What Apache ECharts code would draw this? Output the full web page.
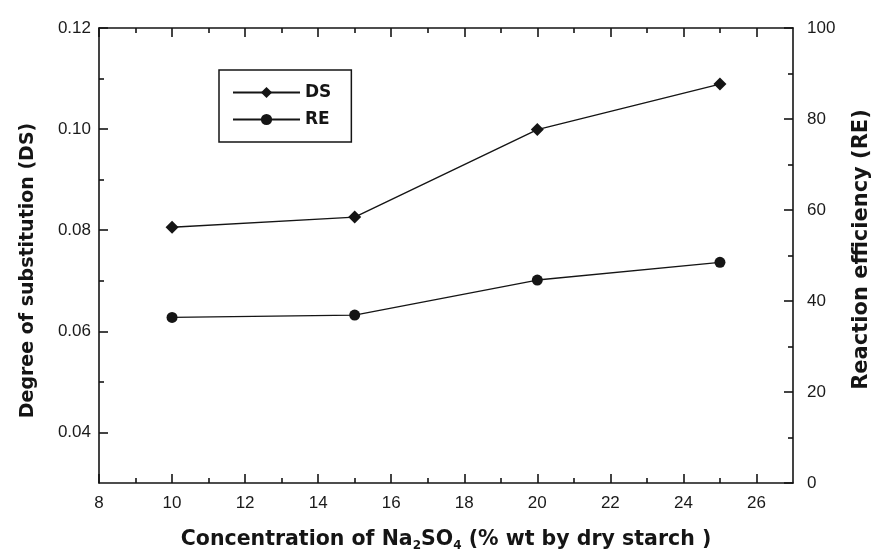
<!DOCTYPE html>
<html><head><meta charset="utf-8">
<script src="https://cdn.jsdelivr.net/npm/echarts@6/dist/echarts.min.js"></script>
<style>html,body{margin:0;padding:0;background:#fff}#c{width:874px;height:555px}</style>
</head><body><div id="c"></div>
<script>
// ---- data ----
const concentration = [10, 15, 20, 25];
const dsValues = [0.0806, 0.0826, 0.0999, 0.1089];
const reValues = [36.4, 36.9, 44.6, 48.5];
const xMajorTicks = [8, 10, 12, 14, 16, 18, 20, 22, 24, 26];
const xMinorTicks = [9, 11, 13, 15, 17, 19, 21, 23, 25];
const dsMajorTicks = [0.04, 0.06, 0.08, 0.10, 0.12];
const dsMinorTicks = [0.05, 0.07, 0.09, 0.11];
const reMajorTicks = [0, 20, 40, 60, 80, 100];
const reMinorTicks = [10, 30, 50, 70, 90];

const INK = '#151515';
const FONT = '"Liberation Sans", Arial, sans-serif';
const BFONT = '"DejaVu Sans", "Liberation Sans", sans-serif';
const lineW = 1.6;
const gridPos = { left: 99, right: 81, top: 28, bottom: 72, outerBoundsMode: 'none', containLabel: false };
const labelStyle = { color: '#1a1a1a', fontSize: 17, fontFamily: FONT };

function minorAxis(pos, min, max, ticks) {
  return {
    type: 'value', gridIndex: 1, position: pos, min: min, max: max,
    axisLine: { show: false },
    axisTick: { show: true, inside: true, length: 5, customValues: ticks, lineStyle: { color: INK, width: lineW } },
    axisLabel: { show: false }, splitLine: { show: false }
  };
}

const chart = echarts.init(document.getElementById('c'), null, { renderer: 'canvas' });
chart.setOption({
  animation: false,
  backgroundColor: '#fff',
  grid: [Object.assign({}, gridPos), Object.assign({}, gridPos)],
  legend: {
    orient: 'vertical', left: 219, top: 70,
    data: ['DS', 'RE'],
    borderColor: INK, borderWidth: 1.5, borderRadius: 0,
    padding: [14, 20, 14, 13],
    itemWidth: 67, itemHeight: 14, itemGap: 10,
    textStyle: { color: INK, fontSize: 17, fontWeight: 'bold', fontFamily: BFONT }
  },
  xAxis: [
    {
      type: 'value', gridIndex: 0, position: 'bottom', min: 8, max: 27,
      axisLine: { show: true, lineStyle: { color: INK, width: lineW } },
      axisTick: { show: true, inside: true, length: 9, customValues: xMajorTicks, lineStyle: { color: INK, width: lineW } },
      axisLabel: Object.assign({ customValues: xMajorTicks, margin: 12 }, labelStyle),
      splitLine: { show: false },
      name: 'Concentration of Na{sub|2}SO{sub|4} (% wt by dry starch )',
      nameLocation: 'middle', nameGap: 45,
      nameTextStyle: {
        color: INK, fontSize: 20.5, fontWeight: 'bold', fontFamily: BFONT,
        rich: { sub: { fontSize: 12, fontWeight: 'bold', fontFamily: BFONT, color: INK, verticalAlign: 'bottom', padding: [12, 0, 0, 0] } }
      }
    },
    {
      type: 'value', gridIndex: 0, position: 'top', min: 8, max: 27,
      axisLine: { show: true, lineStyle: { color: INK, width: lineW } },
      axisTick: { show: true, inside: true, length: 9, customValues: xMajorTicks, lineStyle: { color: INK, width: lineW } },
      axisLabel: { show: false }, splitLine: { show: false }
    },
    minorAxis('bottom', 8, 27, xMinorTicks),
    minorAxis('top', 8, 27, xMinorTicks)
  ],
  yAxis: [
    {
      type: 'value', gridIndex: 0, position: 'left', min: 0.03, max: 0.12,
      axisLine: { show: true, lineStyle: { color: INK, width: lineW } },
      axisTick: { show: true, inside: true, length: 9, customValues: dsMajorTicks, lineStyle: { color: INK, width: lineW } },
      axisLabel: Object.assign({ customValues: dsMajorTicks, margin: 8, formatter: v => v.toFixed(2) }, labelStyle),
      splitLine: { show: false },
      name: 'Degree of substitution (DS)', nameLocation: 'middle', nameGap: 61, nameRotate: 90,
      nameTextStyle: { color: INK, fontSize: 19, fontWeight: 'bold', fontFamily: BFONT, padding: [0, 30, 0, 0] }
    },
    {
      type: 'value', gridIndex: 0, position: 'right', min: 0, max: 100,
      axisLine: { show: true, lineStyle: { color: INK, width: lineW } },
      axisTick: { show: true, inside: true, length: 9, customValues: reMajorTicks, lineStyle: { color: INK, width: lineW } },
      axisLabel: Object.assign({ customValues: reMajorTicks, margin: 14 }, labelStyle),
      splitLine: { show: false },
      name: 'Reaction efficiency (RE)', nameLocation: 'middle', nameGap: 58, nameRotate: 90,
      nameTextStyle: { color: INK, fontSize: 21, fontWeight: 'bold', fontFamily: BFONT, padding: [0, 0, 0, 12] }
    },
    minorAxis('left', 0.03, 0.12, dsMinorTicks),
    minorAxis('right', 0, 100, reMinorTicks)
  ],
  series: [
    {
      name: 'DS', type: 'line', xAxisIndex: 0, yAxisIndex: 0,
      data: concentration.map((x, i) => [x, dsValues[i]]),
      symbol: 'diamond', symbolSize: 13,
      lineStyle: { color: INK, width: 1.4 }, itemStyle: { color: INK }
    },
    {
      name: 'RE', type: 'line', xAxisIndex: 0, yAxisIndex: 1,
      data: concentration.map((x, i) => [x, reValues[i]]),
      symbol: 'circle', symbolSize: 11,
      lineStyle: { color: INK, width: 1.4 }, itemStyle: { color: INK }
    }
  ]
});
</script></body></html>
